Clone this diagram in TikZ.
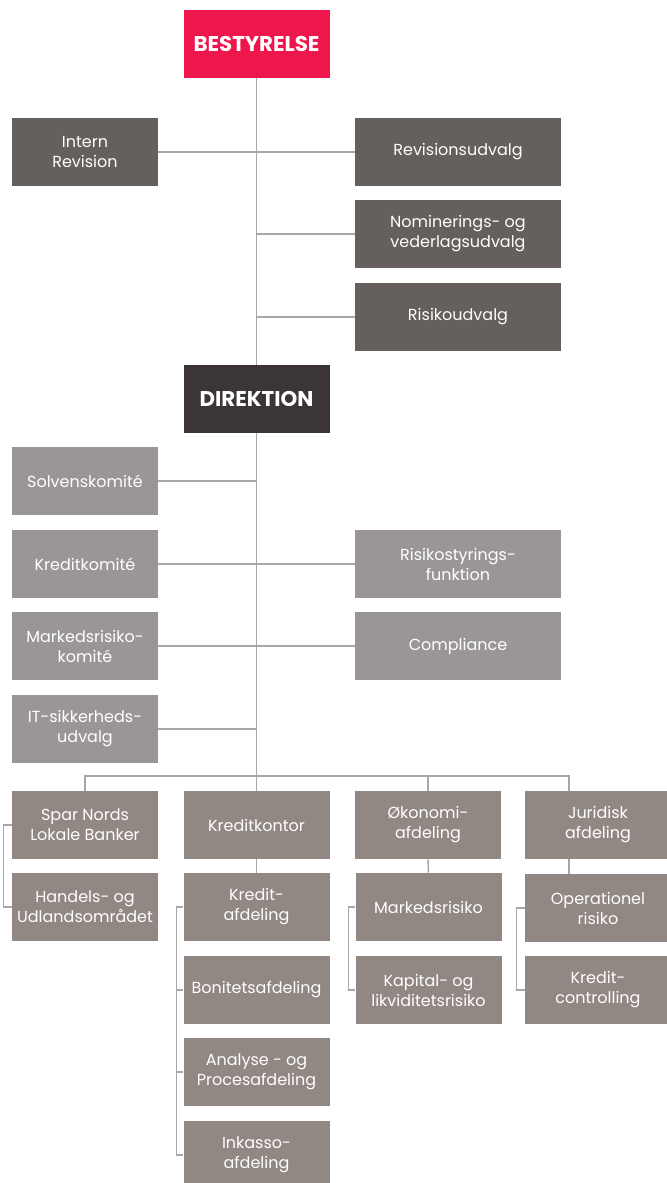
\documentclass[tikz,border=0pt]{standalone}
\usepackage{fontspec}
\setmainfont{Poppins}
\usepackage{xcolor}
\usepackage{tikz}
\usetikzlibrary{calc, positioning}
\definecolor{boardred}{RGB}{237,23,75}
\definecolor{mgmtdark}{RGB}{59,53,53}
\definecolor{upgrey}{RGB}{101,96,94}
\definecolor{midgrey}{RGB}{154,150,151}
\definecolor{lowtaupe}{RGB}{145,135,131}
\definecolor{connline}{RGB}{168,166,166}
\tikzset{
    unit/.style={rectangle, text=white, align=center, inner sep=0pt, minimum height=51pt,
        font=\fontsize{12}{15}\selectfont},
    narrow/.style={unit, minimum width=109.5pt},
    wide/.style={unit, minimum width=154.5pt},
    board/.style={narrow, fill=boardred, font=\fontsize{16}{18}\selectfont\bfseries},
    mgmt/.style={narrow, fill=mgmtdark, font=\fontsize{16}{18}\selectfont\bfseries},
    upper/.style={fill=upgrey},
    middle/.style={fill=midgrey},
    lower/.style={narrow, fill=lowtaupe},
    conn/.style={draw=connline, line width=1.1pt}
}
\begin{document}
\begin{tikzpicture}[x=0.75pt, y=-0.75pt]
    \useasboundingbox (0,0) rectangle (667,1183);

    % Board level
    \node[board] (best) at (256.5,44) {BESTYRELSE};
    \node[narrow, upper] (intrev) at (85,152) {Intern\\Revision};
    \node[wide, upper] (revud) at (458,152) {Revisionsudvalg};
    \node[wide, upper] (nomud) at (458,234) {Nominerings- og\\vederlagsudvalg};
    \node[wide, upper] (risud) at (458,317) {Risikoudvalg};

    % Management level
    \node[mgmt] (dir) at (256.5,399) {DIREKTION};
    \node[narrow, middle] (solv) at (85,481) {Solvenskomité};
    \node[narrow, middle] (kredkom) at (85,564) {Kreditkomité};
    \node[wide, middle] (risstyr) at (458,564) {Risikostyrings-\\funktion};
    \node[narrow, middle] (markkom) at (85,646) {Markedsrisiko-\\komité};
    \node[wide, middle] (compl) at (458,646) {Compliance};
    \node[narrow, middle] (itsik) at (85,729) {IT-sikkerheds-\\udvalg};

    % Departments
    \node[lower] (spar) at (85,825) {Spar Nords\\Lokale Banker};
    \node[lower] (kredkon) at (256.5,825) {Kreditkontor};
    \node[lower] (oko) at (428,825) {Økonomi-\\afdeling};
    \node[lower] (jur) at (598,825) {Juridisk\\afdeling};
    \node[lower] (handels) at (85,907) {Handels- og\\Udlandsområdet};
    \node[lower] (kredaf) at (256.5,907) {Kredit-\\afdeling};
    \node[lower] (markris) at (428.5,907) {Markedsrisiko};
    \node[lower] (oprisk) at (598,908) {Operationel\\risiko};
    \node[lower] (bonit) at (256.5,990) {Bonitetsafdeling};
    \node[lower] (kapital) at (428.5,990) {Kapital- og\\likviditetsrisiko};
    \node[lower] (kredctrl) at (598,990) {Kredit-\\controlling};
    \node[lower] (analyse) at (256.5,1072) {Analyse - og\\Procesafdeling};
    \node[lower] (inkasso) at (256.5,1155) {Inkasso-\\afdeling};

    \coordinate (bus) at (0,776);
    \coordinate (jurx) at (569,791);

    % Connectors
    \draw[conn] (best.south) -- (dir.north);
    \draw[conn] (dir.south) -- (kredkon.north);
    \draw[conn] (intrev.east) -- (revud.west);
    \draw[conn] (nomud.west) -- (nomud.west -| best);
    \draw[conn] (risud.west) -- (risud.west -| best);
    \draw[conn] (solv.east) -- (solv.east -| dir);
    \draw[conn] (kredkom.east) -- (risstyr.west);
    \draw[conn] (markkom.east) -- (compl.west);
    \draw[conn] (itsik.east) -- (itsik.east -| dir);
    \draw[conn] (spar.north) |- (jurx |- bus) -- (jurx);
    \draw[conn] (oko.north) -- (oko.north |- bus);
    \draw[conn] (kredkon.south) -- (kredaf.north);
    \draw[conn] (oko.south) -- (markris.north);
    \draw[conn] (jurx |- jur.south) -- (jurx |- oprisk.north);

    % Brackets
    \draw[conn] (spar.west) -- ++(-8,0) |- (handels.west);
    \draw[conn] (kredaf.west) -- ++(-7,0) |- (inkasso.west);
    \foreach \dept in {bonit, analyse}
        \draw[conn] (\dept.west) -- ++(-7,0);
    \draw[conn] (markris.west) -- ++(-7,0) |- (kapital.west);
    \draw[conn] (oprisk.west) -- ++(-8,0) |- (kredctrl.west);
\end{tikzpicture}
\end{document}
